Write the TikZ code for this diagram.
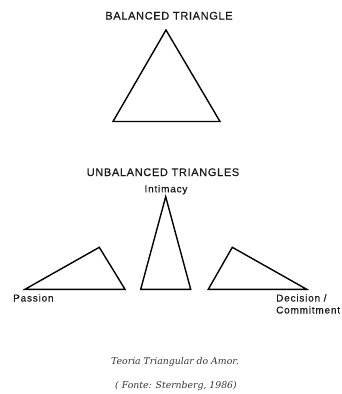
\documentclass[tikz,border=0pt]{standalone}
\usepackage{fontspec}
\setmainfont{Liberation Sans}
\newfontfamily\headfont{Liberation Sans}[LetterSpace=6,FakeBold=0.6]
\newfontfamily\tagfont{Liberation Sans}[LetterSpace=8,FakeBold=0.6]
\newfontfamily\notefont{DejaVu Serif}

\begin{document}
\begin{tikzpicture}[x=1pt,y=-1pt,
  edge/.style={line width=1.4pt, line join=miter, draw=black},
  heading/.style={font=\fontsize{11}{13}\selectfont\headfont, anchor=base, inner sep=0pt, text=black!90},
  vertexlabel/.style={font=\fontsize{10}{12}\selectfont\tagfont, anchor=base west, inner sep=0pt, text=black!90, align=left},
  note/.style={font=\fontsize{9.3}{11}\selectfont\notefont\itshape, anchor=base, inner sep=0pt, text=black!80}
]
\useasboundingbox (0,0) rectangle (342,394);

% balanced triangle
\node[heading] (balanced) at (169,19.5) {BALANCED TRIANGLE};
\coordinate (bt) at (166,30);
\coordinate (bl) at (113,121.5);
\coordinate (br) at (220,121.5);
\draw[edge] (bt) -- (bl) -- (br) -- cycle;

% unbalanced triangles
\node[heading] (unbalanced) at (163,176) {UNBALANCED TRIANGLES};
\node[vertexlabel, anchor=base] (intimacy) at (166,192.3) {Intimacy};

% leaning towards passion
\coordinate (pl) at (25,289.3);
\coordinate (pt) at (99.3,247.3);
\coordinate (pr) at (125,289.3);
\draw[edge] (pl) -- (pt) -- (pr) -- cycle;

% leaning towards intimacy
\coordinate (it) at (165.7,196.7);
\coordinate (il) at (140.7,289.3);
\coordinate (ir) at (190.7,289.3);
\draw[edge] (it) -- (il) -- (ir) -- cycle;

% leaning towards decision / commitment
\coordinate (dt) at (232.3,247.3);
\coordinate (dl) at (208.3,289.3);
\coordinate (dr) at (306.7,289.3);
\draw[edge] (dt) -- (dl) -- (dr) -- cycle;

\node[vertexlabel] (passion) at (13,301.5) {Passion};
\node[vertexlabel] (decision) at (276,301.5) {Decision /};
\node[vertexlabel] (commitment) at (276,313.5) {Commitment};

% caption
\node[note] (title) at (175,364) {Teoria Triangular do Amor.};
\node[note] (source) at (176,388) {( Fonte: Sternberg, 1986)};
\end{tikzpicture}
\end{document}
